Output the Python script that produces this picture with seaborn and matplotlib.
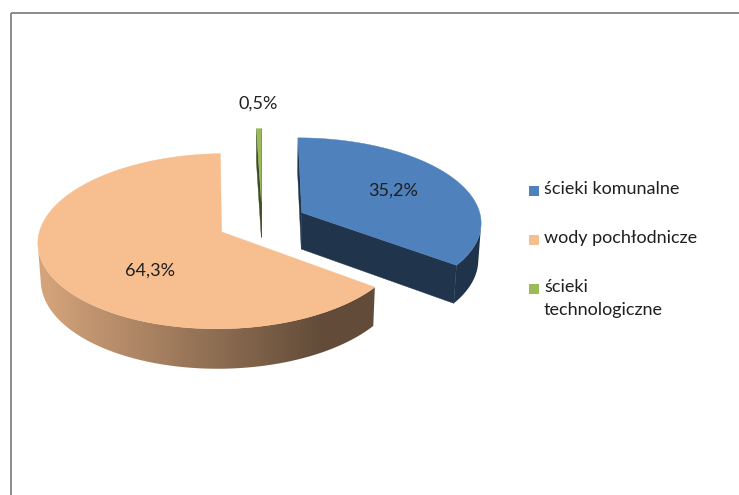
import numpy as np
import matplotlib
matplotlib.use("Agg")
import matplotlib.pyplot as plt
import seaborn as sns
from matplotlib.patches import Polygon, Rectangle
from matplotlib.colors import to_rgb

# ---- data ----
categories = ["ścieki komunalne", "wody pochłodnicze", "ścieki technologiczne"]
legend_labels = ["ścieki komunalne", "wody pochłodnicze", "ścieki\ntechnologiczne"]
values = [35.2, 64.3, 0.5]
value_labels = ["35,2%", "64,3%", "0,5%"]

# ---- style ----
colors = ["#4F81BD", "#F7BE8F", "#9BBB59"]
text_color = "#1f1f1f"

sns.set_theme(style="white")
plt.rcParams['font.family'] = ['Lato', 'DejaVu Sans']

W, H = 739, 495
fig = plt.figure(figsize=(W / 100, H / 100), dpi=100)
ax = fig.add_axes([0, 0, 1, 1])
ax.set_xlim(0, W)
ax.set_ylim(H, 0)
ax.axis('off')

# chart frame
ax.add_patch(Rectangle((11, 13), 900, 700, fill=False, ec="#8a8a8a", lw=1.4, zorder=0))

# ---- 3D perspective pie ----
cx, cy = 262, 222
phi = np.radians(28)
D = 8.4
F = 180 * D
h = 0.234
explode = 0.25
cam_v = -D * np.cos(phi)


def proj(u, v, z):
    depth = D + v * np.cos(phi) - z * np.sin(phi)
    return cx + F * u / depth, cy - F * (v * np.sin(phi) + z * np.cos(phi)) / depth


def shade_arr(x):
    return np.interp(x, [45, 320], [0.86, 0.40])


def dark(c, f):
    r, g, b = to_rgb(c)
    return (r * f, g * f, b * f)


xs = np.arange(W) + 0.5


def gradient_img(c):
    f = shade_arr(xs)
    rgb = np.array(to_rgb(c))[None, :] * f[:, None]
    return np.repeat(rgb[None, :, :], 2, axis=0)


total = float(np.sum(values))
cum = np.concatenate([[0.0], np.cumsum(values)])
wedges = []
for i, val in enumerate(values):
    a_start = 90 - cum[i] / total * 360
    a_end = 90 - cum[i + 1] / total * 360
    t1, t2 = a_end, a_start
    mid = np.radians((t1 + t2) / 2)
    ou, ov = explode * np.cos(mid), explode * np.sin(mid)
    wedges.append(dict(i=i, t1=t1, t2=t2, mid=mid, ou=ou, ov=ov))

label_r = [0.6, 0.56, 1.39]
label_dang = [0.0, 21.6, 0.0]

z = 1.0
for w in sorted(wedges, key=lambda d: -d["ov"]):
    i = w["i"]
    ou, ov = w["ou"], w["ov"]
    col = colors[i]
    t1, t2 = w["t1"], w["t2"]
    n = max(3, int(abs(t2 - t1) * 4) + 1)
    ts = np.radians(np.linspace(t1, t2, n))

    # cut faces
    for t, sgn in ((np.radians(t1), -1), (np.radians(t2), 1)):
        nrm = t + sgn * np.pi / 2
        nu, nv = np.cos(nrm), np.sin(nrm)
        pu, pv = ou + 0.5 * np.cos(t), ov + 0.5 * np.sin(t)
        if (-pu) * nu + (cam_v - pv) * nv > 0:
            pts = [proj(ou, ov, 0), proj(ou + np.cos(t), ov + np.sin(t), 0),
                   proj(ou + np.cos(t), ov + np.sin(t), -h), proj(ou, ov, -h)]
            ax.add_patch(Polygon(pts, closed=True, fc=dark(col, 0.40),
                                 ec=dark(col, 0.40), lw=0.3, zorder=z))
            z += 0.01

    # outer side (visible part, smooth gradient)
    vis = [t for t in ts
           if (-(ou + np.cos(t))) * np.cos(t) + (cam_v - (ov + np.sin(t))) * np.sin(t) > 0]
    if len(vis) >= 2:
        topp = [proj(ou + np.cos(t), ov + np.sin(t), 0) for t in vis]
        botp = [proj(ou + np.cos(t), ov + np.sin(t), -h) for t in vis][::-1]
        side = Polygon(topp + botp, closed=True, fc="none", ec="none", zorder=z)
        ax.add_patch(side)
        im = ax.imshow(gradient_img(col), extent=(0, W, H, 0), aspect="auto",
                       interpolation="bilinear", zorder=z)
        im.set_clip_path(side)
        z += 0.01

    # top face
    top = [proj(ou, ov, 0)] + [proj(ou + np.cos(t), ov + np.sin(t), 0) for t in ts]
    ax.add_patch(Polygon(top, closed=True, fc=col, ec=col, lw=0.3, zorder=z))
    z += 0.01

ax.set_xlim(0, W)
ax.set_ylim(H, 0)

# value labels
for w in wedges:
    i = w["i"]
    ang = w["mid"] + np.radians(label_dang[i])
    lx, ly = proj(w["ou"] + label_r[i] * np.cos(ang),
                  w["ov"] + label_r[i] * np.sin(ang), 0)
    ax.text(lx, ly, value_labels[i], ha="center", va="center",
            fontsize=13, color=text_color, zorder=10)

# legend
leg_x, leg_y, leg_dy, sq = 529, 191, 49, 10
for i, lab in enumerate(legend_labels):
    y = leg_y + i * leg_dy
    ax.add_patch(Rectangle((leg_x, y - sq / 2), sq, sq, fc=colors[i], ec="none", zorder=10))
    ax.text(leg_x + sq + 5, y - 10, lab, ha="left", va="top", fontsize=13,
            color=text_color, linespacing=1.5, zorder=10)

fig.savefig("out.png", dpi=100)
